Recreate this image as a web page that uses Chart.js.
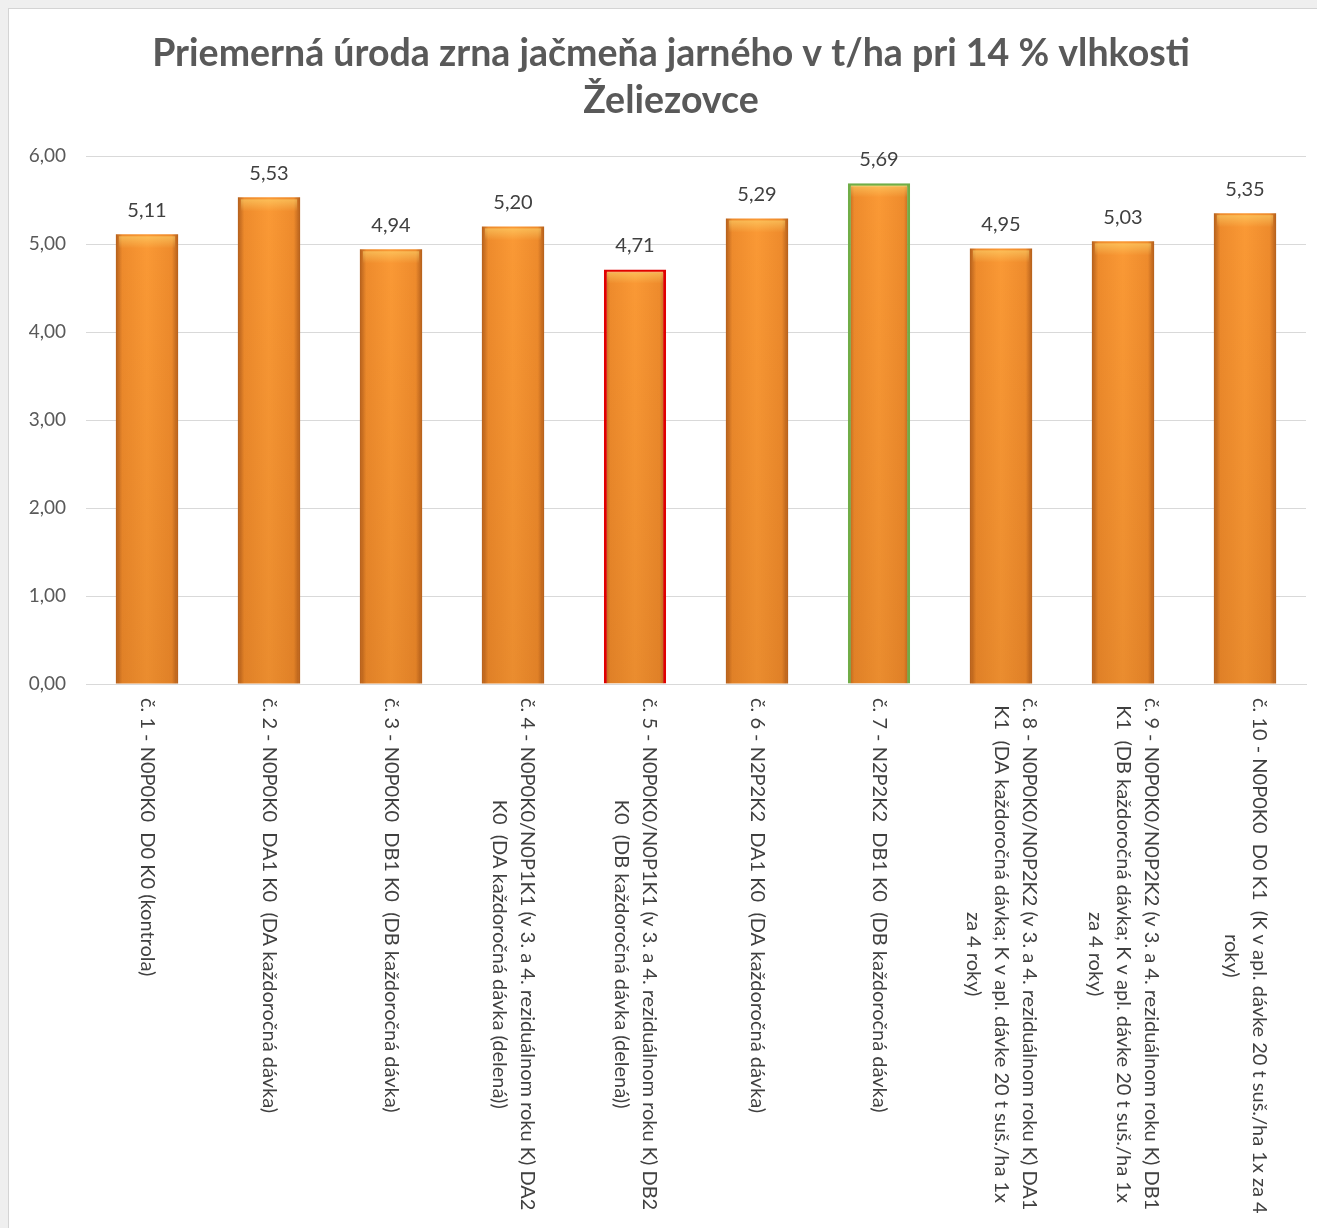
<!DOCTYPE html>
<html>
<head>
<meta charset="utf-8">
<script src="https://cdn.jsdelivr.net/npm/chart.js"></script>
<style>
  html, body { margin: 0; padding: 0; overflow: hidden; background: #efefef; }
  #ramec { position: absolute; left: 8px; top: 8px; width: 1325px; height: 1230px;
           background: #fff; border: 1px solid #d4d4d4; }
</style>
</head>
<body>
<div id="ramec"><canvas id="graf" width="1325" height="1230"></canvas></div>
<script>
const nazov = ["Priemerná úroda zrna jačmeňa jarného v t/ha pri 14 % vlhkosti", "Želiezovce"];

const varianty = [
  ["č. 1 - N0P0K0  D0 K0 (kontrola)"],
  ["č. 2 - N0P0K0  DA1 K0  (DA každoročná dávka)"],
  ["č. 3 - N0P0K0  DB1 K0  (DB každoročná dávka)"],
  ["č. 4 - N0P0K0/N0P1K1 (v 3. a 4. reziduálnom roku K) DA2", "K0  (DA každoročná dávka (delená))"],
  ["č. 5 - N0P0K0/N0P1K1 (v 3. a 4. reziduálnom roku K) DB2", "K0  (DB každoročná dávka (delená))"],
  ["č. 6 - N2P2K2  DA1 K0  (DA každoročná dávka)"],
  ["č. 7 - N2P2K2  DB1 K0  (DB každoročná dávka)"],
  ["č. 8 - N0P0K0/N0P2K2 (v 3. a 4. reziduálnom roku K) DA1", "K1  (DA každoročná dávka; K v apl. dávke 20 t suš./ha 1x", "za 4 roky)"],
  ["č. 9 - N0P0K0/N0P2K2 (v 3. a 4. reziduálnom roku K) DB1", "K1  (DB každoročná dávka; K v apl. dávke 20 t suš./ha 1x", "za 4 roky)"],
  ["č. 10 - N0P0K0  D0 K1  (K v apl. dávke 20 t suš./ha 1x za 4", "roky)"]
];

const uroda = [5.11, 5.53, 4.94, 5.20, 4.71, 5.29, 5.69, 4.95, 5.03, 5.35];

const okraje = ["", "", "", "", "#e00000", "", "#70ad47", "", "", ""];

const FONT = "Lato, 'Open Sans', sans-serif";

function ciarka(v){
    return v.toFixed(2).replace(".", ",");
}

// oranzovy prechod cez sirku stlpca
function vypln(ctx){
    const ch = ctx.chart;
    if(!ch.chartArea) return "#f7952e";
    const el = ctx.element;
    const x = ch.scales.x.getPixelForValue(ctx.dataIndex);
    const w = el && el.width ? el.width : 62;
    const g = ch.ctx.createLinearGradient(x - w/2, 0, x + w/2, 0);
    g.addColorStop(0, "#b5601c");
    g.addColorStop(0.1, "#ee8b2c");
    g.addColorStop(0.5, "#fa9935");
    g.addColorStop(0.9, "#ee8b2c");
    g.addColorStop(1, "#b5601c");
    return g;
}

// nadpis kreslim sam, aby bol v strede celeho ramca
const nadpisPlugin = {
    id: "nadpis",
    afterDraw(chart){
        const ctx = chart.ctx;
        ctx.save();
        ctx.font = "bold 37.5px " + FONT;
        ctx.fillStyle = "#595959";
        ctx.textAlign = "center";
        ctx.textBaseline = "middle";
        nazov.forEach((r, i) => ctx.fillText(r, 662, 45 + i * 47));
        ctx.restore();
    }
};

const hodnotyPlugin = {
    id: "hodnoty",
    afterDatasetsDraw(chart){
        const ctx = chart.ctx;
        const meta = chart.getDatasetMeta(0);
        ctx.save();
        meta.data.forEach((bar, i) => {
            // odlesk hore a tmavsi spodok
            const top = bar.y, bot = bar.base, l = bar.x - bar.width/2;
            let g = ctx.createLinearGradient(0, top, 0, top + 14);
            g.addColorStop(0, "rgba(255,225,120,0.6)");
            g.addColorStop(1, "rgba(255,225,120,0)");
            ctx.fillStyle = g;
            ctx.fillRect(l + 3, top + 2, bar.width - 6, 14);
            g = ctx.createLinearGradient(0, top, 0, bot);
            g.addColorStop(0, "rgba(120,50,0,0)");
            g.addColorStop(1, "rgba(120,50,0,0.12)");
            ctx.fillStyle = g;
            ctx.fillRect(l + 2, top + 16, bar.width - 4, bot - top - 16);

            ctx.fillStyle = "#404040";
            ctx.font = "20px " + FONT;
            ctx.textAlign = "center";
            ctx.textBaseline = "middle";
            ctx.fillText(ciarka(uroda[i]), bar.x, bar.y - 24);
        });
        ctx.restore();
    }
};

const popiskyPlugin = {
    id: "popisky",
    afterDraw(chart){
        const ctx = chart.ctx;
        const xs = chart.scales.x;
        const y0 = chart.chartArea.bottom + 14;
        ctx.save();
        ctx.font = "20px " + FONT;
        ctx.fillStyle = "#404040";
        ctx.textAlign = "left";
        ctx.textBaseline = "middle";
        varianty.forEach((riadky, i) => {
            const x = xs.getPixelForValue(i);
            const maxW = Math.max(...riadky.map(r => ctx.measureText(r).width));
            ctx.save();
            ctx.translate(x, y0);
            ctx.rotate(Math.PI / 2);
            riadky.forEach((r, j) => {
                const w = ctx.measureText(r).width;
                const dy = (j - (riadky.length - 1) / 2) * 28;
                ctx.fillText(r, (maxW - w) / 2, dy);
            });
            ctx.restore();
        });
        ctx.restore();
    }
};

new Chart(document.getElementById("graf"), {
    type: "bar",
    data: {
        labels: varianty.map(v => v[0]),
        datasets: [{
            data: uroda,
            backgroundColor: vypln,
            borderColor: okraje.map(c => c || "rgba(0,0,0,0)"),
            borderWidth: okraje.map(c => c ? 3 : 0),
            categoryPercentage: 1,
            barPercentage: 0.51
        }]
    },
    options: {
        responsive: false,
        animation: false,
        layout: { padding: { left: 0, right: 28, top: 147, bottom: 0 } },
        plugins: {
            legend: { display: false },
            tooltip: { enabled: false },
            title: { display: false }
        },
        scales: {
            x: {
                grid: { display: false },
                border: { display: true, color: "#d9d9d9" },
                ticks: { display: false },
                afterFit: s => { s.height = 555; }
            },
            y: {
                min: 0,
                max: 6,
                ticks: {
                    stepSize: 1,
                    color: "#595959",
                    padding: 20,
                    font: { family: FONT, size: 19 },
                    callback: v => ciarka(v)
                },
                grid: { color: "#d9d9d9", drawTicks: false },
                border: { display: false },
                afterFit: s => { s.width = 77; }
            }
        }
    },
    plugins: [nadpisPlugin, hodnotyPlugin, popiskyPlugin]
});
</script>
</body>
</html>
